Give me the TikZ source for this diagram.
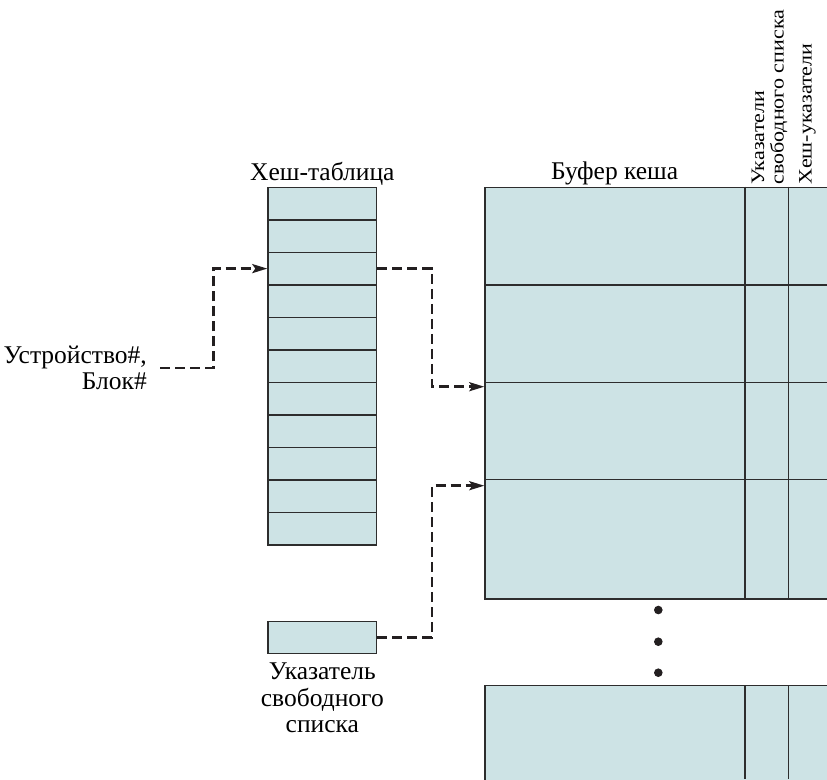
\documentclass[tikz,border=0pt]{standalone}
\usepackage{fontspec}
\setmainfont{Liberation Serif}
\usetikzlibrary{arrows.meta,positioning}
\definecolor{cellfill}{RGB}{205,227,229}
\definecolor{edge}{RGB}{45,45,45}
\definecolor{ink}{RGB}{35,31,32}
\tikzset{
  cell/.style={draw=edge, fill=cellfill, line width=1.3pt, inner sep=0pt, anchor=north west},
  link/.style={dash pattern=on 10pt off 5pt, line width=2.5pt, draw=ink, -{Stealth[length=15pt,width=9pt,inset=3pt]}},
  lbl/.style={font=\fontsize{25.5}{26.5}\selectfont, inner sep=0pt},
  collbl/.style={font=\fontsize{19}{19}\selectfont, inner sep=0pt, rotate=90, xscale=1.16, anchor=base west}
}

\begin{document}
\begin{tikzpicture}[x=1pt,y=-1pt]
	\useasboundingbox (0,0) rectangle (827,779);
	\clip (0,0) rectangle (827,779);
	% hash table
	\foreach \i in {1,...,11}
		\node[cell, minimum width=108.7pt, minimum height=32.5pt] (h\i) at (267.3,{186.7+(\i-1)*32.5}) {};
	\node[lbl, anchor=base] (hashttl) at ([yshift=6.7pt]h1.north) {Хеш-таблица};
	% buffer cache
	\foreach \n/\t/\h in {1/186.7/97.6, 2/284.3/97.4, 3/381.7/97, 4/478.7/119.6, 5/685/120}
		\node[cell, minimum width=380pt, minimum height=\h pt] (b\n) at (484.3,\t) {};
	\draw[edge, line width=1.3pt] (745,186.7) -- (745,598.3) (788.3,186.7) -- (788.3,598.3)
		(745,685) -- (745,779) (788.3,685) -- (788.3,779);
	\node[lbl, anchor=base] (bufttl) at (614.6,179.5) {Буфер кеша};
	\node[collbl] (freecol1) at (764,185) {Указатели};
	\node[collbl] (freecol2) at (783.5,185) {свободного списка};
	\node[collbl] (hashcol) at (811.7,185) {Хеш-указатели};
	\foreach \y in {610,641.7,672.7}
		\fill[ink] (658.3,\y) circle[radius=4.3pt];
	% free list pointer
	\node[cell, minimum width=108.7pt, minimum height=32pt] (fp) at (267.3,620.7) {};
	\node[lbl, align=center, below=9pt of fp] (fplbl) {Указатель\\свободного\\списка};
	% input
	\node[lbl, align=right, anchor=east] (dev) at (147,368) {Устройство\#,\\Блок\#};
	\draw[link] ([xshift=13pt]dev.east) -- ++(53.3,0) |- (h3.west);
	\draw[link] (h3.east) -- ++(54.7,0) |- ([yshift=-5pt]b3.north west);
	\draw[link] (fp.east) -- ++(54.7,0) |- ([yshift=-7pt]b4.north west);
\end{tikzpicture}
\end{document}
